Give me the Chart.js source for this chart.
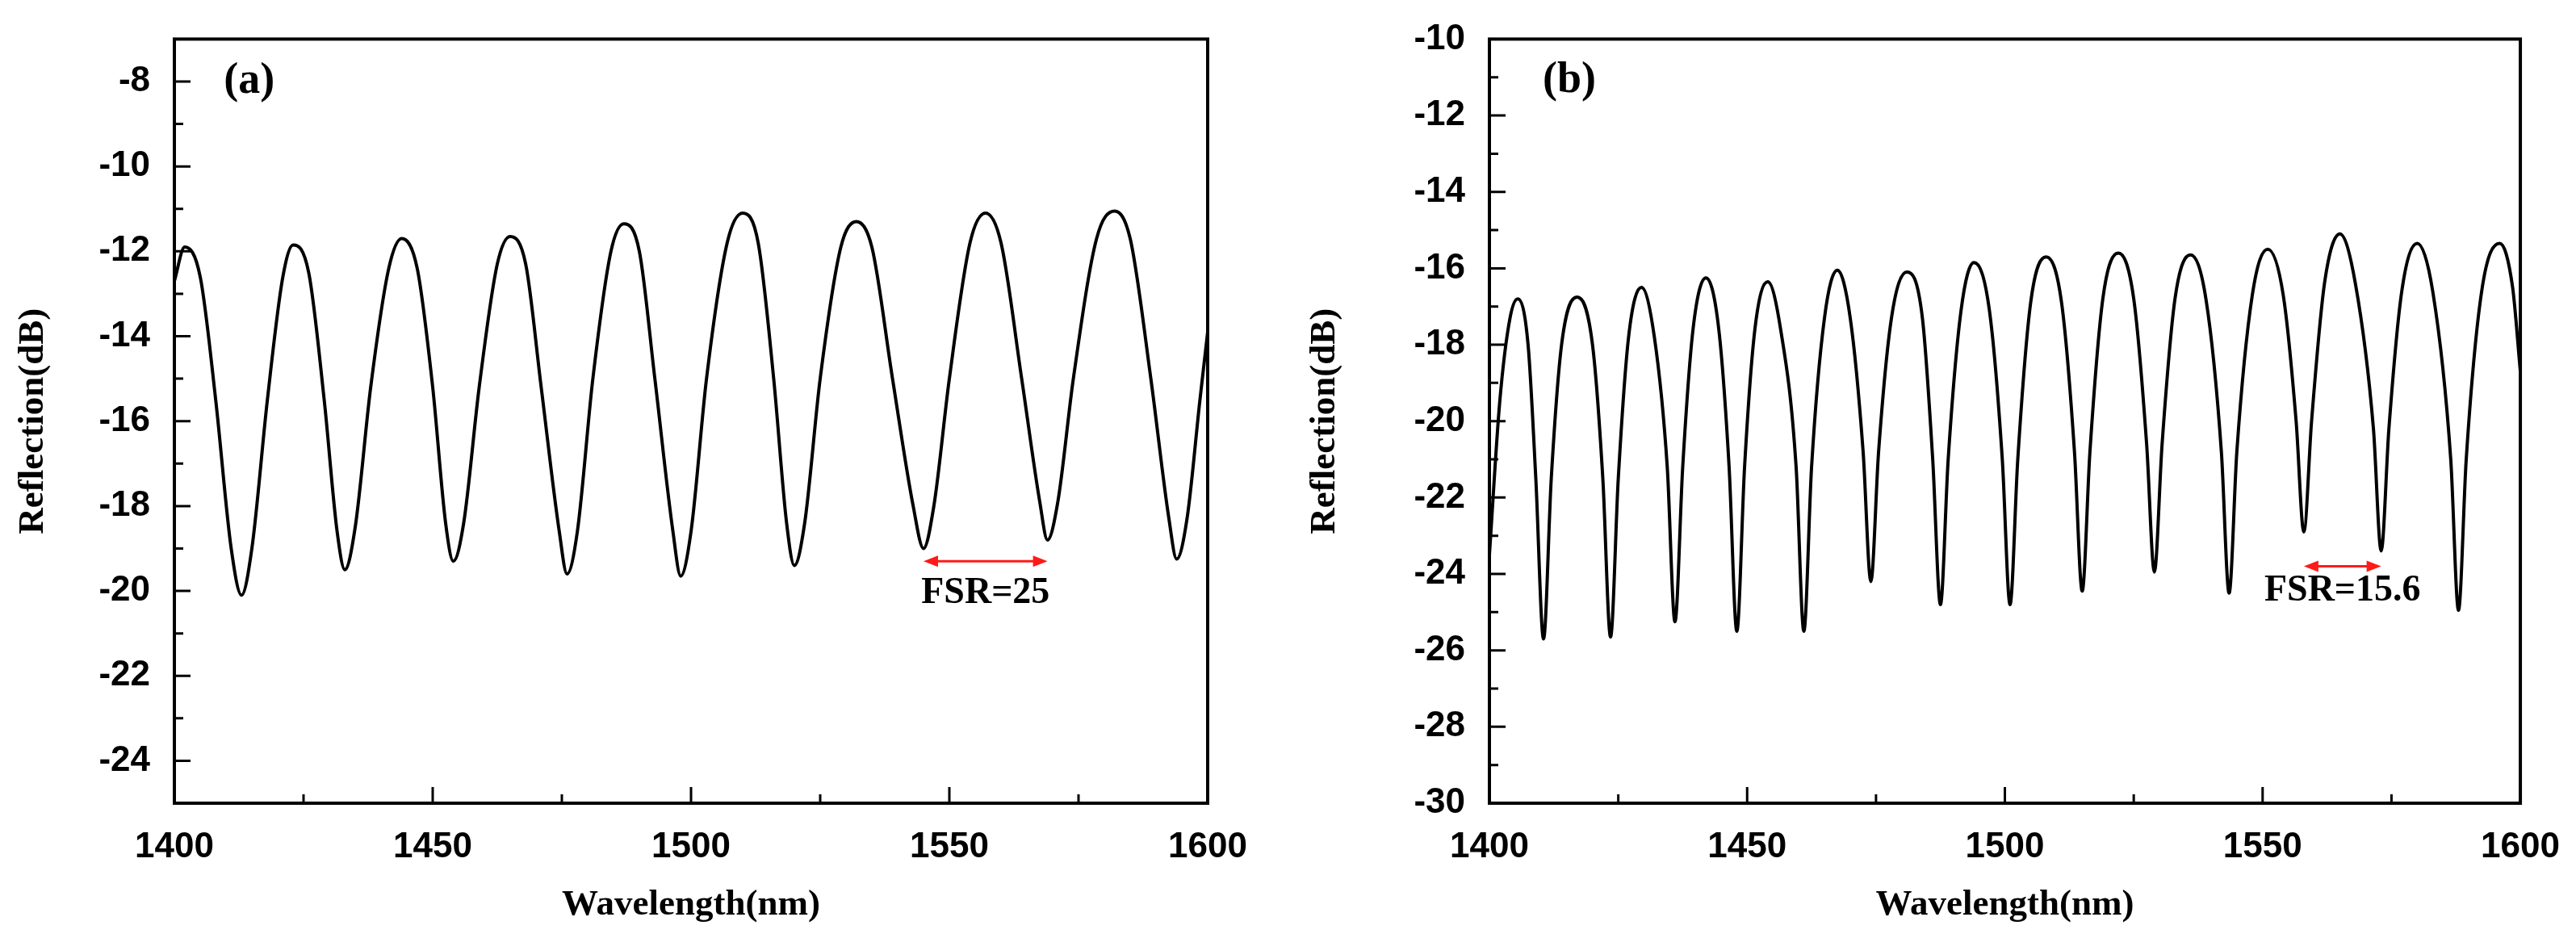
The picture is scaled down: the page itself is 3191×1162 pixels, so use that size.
<!DOCTYPE html>
<html>
<head>
<meta charset="utf-8">
<script src="https://cdn.jsdelivr.net/npm/chart.js@4.4.0/dist/chart.umd.min.js"></script>
<style>
  body { margin: 0; background: #fff; }
  #wrapA { position: absolute; left: 0; top: 0; width: 1580px; height: 1162px; }
  #wrapB { position: absolute; left: 1600px; top: 0; width: 1591px; height: 1162px; }
</style>
</head>
<body>
<div id="wrapA"><canvas id="chartA"></canvas></div>
<div id="wrapB"><canvas id="chartB"></canvas></div>
<script>
// panel (a) spectrum
const wavelengthA = [1400, 1402, 1405, 1408, 1411, 1413, 1415, 1418, 1421, 1423, 1426, 1429, 1431.5, 1433, 1435, 1438, 1441.5, 1444, 1447, 1450, 1452.5, 1454, 1456, 1459, 1462.5, 1465, 1468, 1471, 1474.5, 1476, 1478, 1481, 1484.5, 1487, 1490, 1493, 1496.5, 1498, 1500, 1503, 1507, 1510, 1513, 1516, 1518.5, 1520, 1522, 1525, 1529, 1532, 1535, 1539, 1543, 1545, 1547, 1550, 1554, 1557, 1560, 1564, 1567.5, 1569, 1571, 1574, 1578.5, 1582, 1585, 1589, 1592.5, 1594, 1596, 1598.5, 1600];
const reflectionA = [-12.7, -11.9, -12.6, -15.5, -19.0, -20.1, -19.0, -15.5, -12.6, -11.85, -12.5, -15.5, -18.6, -19.5, -18.5, -15.2, -12.4, -11.7, -12.4, -15.2, -18.4, -19.3, -18.4, -15.2, -12.3, -11.65, -12.3, -15.2, -18.6, -19.6, -18.6, -15.0, -12.0, -11.35, -12.0, -15.0, -18.6, -19.65, -18.6, -15.0, -11.8, -11.1, -11.8, -15.0, -18.4, -19.4, -18.4, -15.0, -11.9, -11.3, -11.9, -15.0, -18.0, -19.0, -18.0, -15.0, -11.8, -11.1, -11.8, -15.0, -17.9, -18.8, -17.9, -15.0, -11.7, -11.05, -11.7, -15.0, -18.3, -19.25, -18.3, -15.5, -13.9];

// panel (b) spectrum
const wavelengthB = [1400, 1402, 1404, 1405.5, 1407.5, 1409, 1410.5, 1412, 1414, 1417, 1420, 1422, 1423.5, 1425, 1427, 1429.5, 1432, 1434.5, 1436, 1437.5, 1439.5, 1442, 1444.5, 1446.5, 1448, 1449.5, 1451.5, 1454, 1456.5, 1459.5, 1461, 1462.5, 1465, 1467.5, 1470, 1472.5, 1474, 1475.5, 1478, 1481, 1484, 1486, 1487.5, 1489, 1491.5, 1494, 1497, 1499.5, 1501, 1502.5, 1505, 1508, 1511, 1513.5, 1515, 1516.5, 1519, 1522, 1525, 1527.5, 1529, 1530.5, 1533, 1536, 1539, 1542, 1543.5, 1545, 1548, 1551, 1554, 1556.5, 1558, 1559.5, 1562, 1565, 1568, 1571.5, 1573, 1574.5, 1577, 1580, 1583, 1586.5, 1588, 1589.5, 1592.5, 1596, 1598.5, 1600];
const reflectionB = [-23.5, -19.5, -17.3, -16.8, -18.0, -21.5, -25.7, -21.5, -18.0, -16.75, -18.0, -21.5, -25.65, -21.5, -17.8, -16.5, -17.8, -21.2, -25.25, -21.2, -17.6, -16.25, -17.6, -21.2, -25.5, -21.2, -17.6, -16.35, -17.6, -21.2, -25.5, -21.2, -17.3, -16.05, -17.3, -20.8, -24.2, -20.8, -17.3, -16.1, -17.3, -21.0, -24.8, -21.0, -17.1, -15.85, -17.1, -21.0, -24.8, -21.0, -16.9, -15.7, -16.9, -20.8, -24.45, -20.8, -16.8, -15.6, -16.8, -20.6, -23.95, -20.6, -16.8, -15.65, -16.8, -20.8, -24.5, -20.8, -16.7, -15.5, -16.7, -20.0, -22.9, -20.0, -16.4, -15.1, -16.4, -20.2, -23.4, -20.2, -16.6, -15.35, -16.6, -21.0, -24.95, -21.0, -16.6, -15.35, -16.5, -18.7];

// FSR markers: [start nm, end nm, arrow dB, label dB]
const fsrA = [1545, 1569, -19.3, -20.05];
const fsrB = [1558, 1573, -23.8, -24.45];
const fsrLabelA = 'FSR=25';
const fsrLabelB = 'FSR=15.6';

const tickFont = { family: 'Liberation Sans, Arial, sans-serif', size: 44, weight: 'bold' };
const titleFont = { family: 'Liberation Serif, Times New Roman, serif', size: 45, weight: 'bold' };

// frame, inward ticks, FSR arrow and panel letter
const decor = {
  id: 'decor',
  afterDraw(chart, args, o) {
    const ctx = chart.ctx, x = chart.scales.x, y = chart.scales.y;
    const a = chart.chartArea;
    ctx.save();
    ctx.strokeStyle = '#000';
    ctx.lineWidth = 4;
    ctx.strokeRect(a.left, a.top, a.right - a.left, a.bottom - a.top);
    ctx.lineWidth = 3;
    ctx.beginPath();
    for (let v = 1400; v <= 1600; v += 25) {
      const px = x.getPixelForValue(v), len = v % 50 === 0 ? 20 : 11;
      ctx.moveTo(px, a.bottom); ctx.lineTo(px, a.bottom - len);
    }
    for (let v = Math.ceil(o.ymin); v <= o.ymax; v++) {
      const py = y.getPixelForValue(v), len = v % 2 === 0 ? 20 : 11;
      ctx.moveTo(a.left, py); ctx.lineTo(a.left + len, py);
    }
    ctx.stroke();
    // FSR arrow
    const f = o.fsr;
    const x1 = x.getPixelForValue(f[0]), x2 = x.getPixelForValue(f[1]), ya = y.getPixelForValue(f[2]);
    ctx.strokeStyle = '#ff1a1a'; ctx.fillStyle = '#ff1a1a'; ctx.lineWidth = 3;
    ctx.beginPath(); ctx.moveTo(x1 + 14, ya); ctx.lineTo(x2 - 14, ya); ctx.stroke();
    ctx.beginPath(); ctx.moveTo(x1, ya); ctx.lineTo(x1 + 18, ya - 7); ctx.lineTo(x1 + 18, ya + 7); ctx.fill();
    ctx.beginPath(); ctx.moveTo(x2, ya); ctx.lineTo(x2 - 18, ya - 7); ctx.lineTo(x2 - 18, ya + 7); ctx.fill();
    ctx.fillStyle = '#000';
    ctx.textAlign = 'center'; ctx.textBaseline = 'middle';
    ctx.font = 'bold 46px "Liberation Serif", serif';
    ctx.fillText(o.label, (x1 + x2) / 2, y.getPixelForValue(f[3]));
    ctx.font = 'bold 54px "Liberation Serif", serif';
    ctx.fillText(o.letter, x.getPixelForValue(o.letterPos[0]), y.getPixelForValue(o.letterPos[1]));
    ctx.restore();
  }
};

function makeChart(id, xs, ys, ymin, ymax, yAxisWidth, padRight, padTop, fsr, label, letter, letterPos) {
  return new Chart(document.getElementById(id), {
    type: 'line',
    data: { datasets: [{ data: xs.map((v, i) => ({ x: v, y: ys[i] })), borderColor: '#000', borderWidth: 4, pointRadius: 0, cubicInterpolationMode: 'monotone' }] },
    options: {
      responsive: true, maintainAspectRatio: false, animation: false,
      layout: { padding: { top: padTop, right: padRight, left: 0, bottom: 0 } },
      plugins: { legend: { display: false }, tooltip: { enabled: false },
        decor: { ymin, ymax, fsr, label, letter, letterPos } },
      scales: {
        x: {
          type: 'linear', min: 1400, max: 1600,
          afterBuildTicks: s => { s.ticks = [1400, 1450, 1500, 1550, 1600].map(v => ({ value: v })); },
          afterFit: s => { s.height = 167; },
          grid: { display: false }, border: { display: false },
          ticks: { color: '#000', font: tickFont, padding: 20, maxRotation: 0, callback: v => String(v) },
          title: { display: true, text: 'Wavelength(nm)', color: '#000', font: titleFont, padding: { top: 0, bottom: 14 } }
        },
        y: {
          min: ymin, max: ymax,
          afterBuildTicks: s => { const t = []; for (let v = Math.ceil(ymin / 2) * 2; v <= ymax; v += 2) t.push({ value: v }); s.ticks = t; },
          afterFit: s => { s.width = yAxisWidth; },
          grid: { display: false }, border: { display: false },
          ticks: { color: '#000', font: tickFont, padding: 22 },
          title: { display: true, text: 'Reflection(dB)', color: '#000', font: titleFont, padding: { top: 14, bottom: 0 } }
        }
      }
    },
    plugins: [decor]
  });
}

makeChart('chartA', wavelengthA, reflectionA, -25, -7, 216, 84, 44, fsrA, fsrLabelA, '(a)', [1414.5, -8]);
makeChart('chartB', wavelengthB, reflectionB, -30, -10, 245, 61, 43, fsrB, fsrLabelB, '(b)', [1415.5, -11.1]);
</script>
</body>
</html>
